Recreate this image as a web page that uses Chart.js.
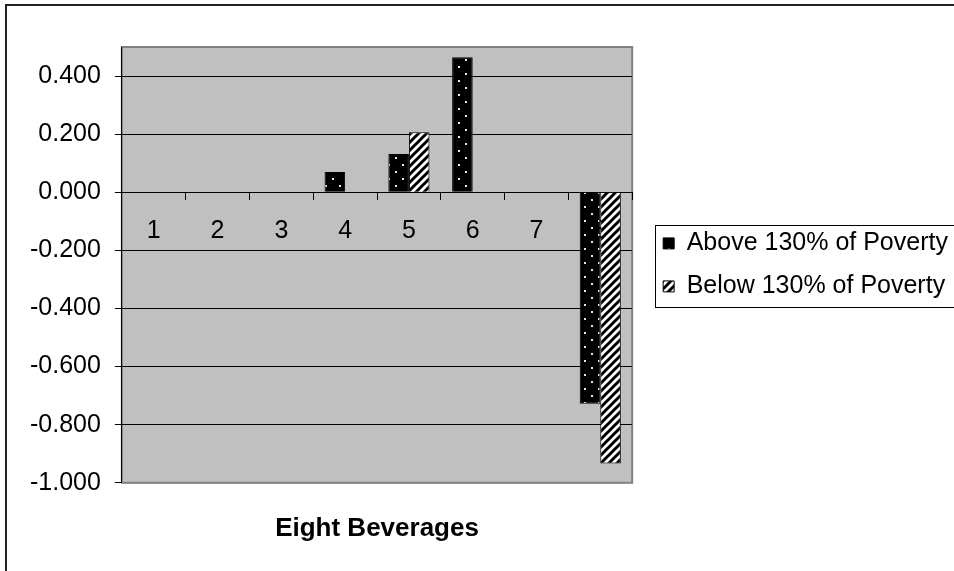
<!DOCTYPE html>
<html>
<head>
<meta charset="utf-8">
<script src="https://cdn.jsdelivr.net/npm/chart.js@4/dist/chart.umd.min.js"></script>
<style>
  html, body { margin: 0; padding: 0; background: #fff; }
  canvas { display: block; }
</style>
</head>
<body>
<canvas id="myChart" width="954" height="571"></canvas>
<script>
(() => {
  'use strict'

  // data
  const categories = ['1', '2', '3', '4', '5', '6', '7', '8']
  const aboveValues = [null, null, null, 0.070, 0.132, 0.465, null, -0.728]
  const belowValues = [null, null, null, null, 0.207, null, null, -0.934]
  const yTickValues = [-1.0, -0.8, -0.6, -0.4, -0.2, 0.0, 0.2, 0.4]

  Chart.defaults.font.family = '"Liberation Sans", Arial, sans-serif'
  Chart.defaults.font.size = 25
  Chart.defaults.color = '#000'

  // fill patterns like the old Excel ones
  const makePattern = (w, h, paint) => {
    const c = document.createElement('canvas')
    c.width = w
    c.height = h
    const g = c.getContext('2d')
    paint(g)
    return g.createPattern(c, 'repeat')
  }
  const dots = makePattern(14, 14, g => {
    g.fillStyle = '#000'
    g.fillRect(0, 0, 14, 14)
    g.fillStyle = '#e8e8e8'
    g.fillRect(3, 3, 2, 2)
    g.fillRect(10, 10, 2, 2)
  })
  const stripes = makePattern(8, 8, g => {
    g.fillStyle = '#fff'
    g.fillRect(0, 0, 8, 8)
    g.strokeStyle = '#000'
    g.lineWidth = 3
    for (const k of [0, 8, 16]) {
      g.beginPath()
      g.moveTo(k + 2, -2)
      g.lineTo(k - 10, 10)
      g.stroke()
    }
  })

  const plotFrame = {
    id: 'plotFrame',
    afterLayout(chart) {
      // let the legend run off the right edge like the original
      const lg = chart.legend
      if (lg) {
        lg.right = chart.width + 20
        lg.width = lg.right - lg.left
      }
    },
    beforeDraw(chart) {
      const {ctx, chartArea: a} = chart
      ctx.save()
      ctx.fillStyle = '#c0c0c0'
      ctx.fillRect(a.left, a.top, a.right - a.left, a.bottom - a.top)
      ctx.strokeStyle = '#808080'
      ctx.lineWidth = 2
      ctx.strokeRect(a.left, a.top, a.right - a.left, a.bottom - a.top)
      ctx.restore()
    },
    afterDraw(chart) {
      const {ctx, legend} = chart
      ctx.save()
      // outer border of the chart object
      ctx.strokeStyle = '#222'
      ctx.lineWidth = 2
      ctx.beginPath()
      ctx.moveTo(6, 580)
      ctx.lineTo(6, 5)
      ctx.lineTo(960, 5)
      ctx.stroke()
      // legend box
      const hb = legend.legendHitBoxes
      if (hb && hb.length) {
        const top = hb[0].top - 5.5
        const bottom = hb[hb.length - 1].top + hb[hb.length - 1].height + 8.5
        ctx.strokeStyle = '#000'
        ctx.lineWidth = 1
        ctx.strokeRect(Math.round(hb[0].left - 8) + 0.5, Math.round(top) + 0.5, 400, Math.round(bottom - top))
      }
      ctx.restore()
    }
  }

  const ctx = document.getElementById('myChart')
  new Chart(ctx, {
    type: 'bar',
    data: {
      labels: categories,
      datasets: [{
        label: 'Above 130% of Poverty',
        data: aboveValues,
        backgroundColor: dots,
        borderColor: '#000',
        borderWidth: 1,
        categoryPercentage: 0.645,
        barPercentage: 1
      }, {
        label: 'Below 130% of Poverty',
        data: belowValues,
        backgroundColor: stripes,
        borderColor: '#000',
        borderWidth: 1,
        categoryPercentage: 0.645,
        barPercentage: 1
      }]
    },
    options: {
      responsive: false,
      animation: false,
      layout: {
        padding: { left: 16, right: 183, top: 47, bottom: 0 }
      },
      scales: {
        x: {
          position: { y: 0 },
          grid: {
            drawOnChartArea: false,
            tickLength: 7,
            tickColor: '#000'
          },
          border: { color: '#000' },
          ticks: { padding: 17, maxRotation: 0 }
        },
        y: {
          position: 'left',
          min: -1,
          max: 0.5,
          afterBuildTicks: scale => {
            scale.ticks = yTickValues.map(v => ({ value: v }))
          },
          grid: {
            color: c => (c.tick && c.tick.value === -1 ? '#808080' : '#000'),
            tickColor: '#000',
            tickLength: 7
          },
          border: { color: '#000' },
          ticks: {
            padding: 14,
            callback: v => Number(v).toFixed(3)
          }
        },
        // empty spacer between plot and legend
        spacer: {
          type: 'linear',
          axis: 'y',
          position: 'right',
          ticks: { display: false },
          grid: { display: false },
          border: { display: false },
          afterFit: s => { s.width = 13 }
        }
      },
      plugins: {
        legend: {
          position: 'right',
          fullSize: false,
          labels: {
            boxWidth: 11,
            boxHeight: 11,
            padding: 18,
            font: { size: 25 }
          }
        },
        title: {
          display: true,
          position: 'bottom',
          fullSize: false,
          text: 'Eight Beverages',
          font: { size: 26, weight: 'bold' },
          padding: { top: 30, bottom: 27 }
        },
        tooltip: { enabled: false }
      }
    },
    plugins: [plotFrame]
  })
})()
</script>
</body>
</html>
